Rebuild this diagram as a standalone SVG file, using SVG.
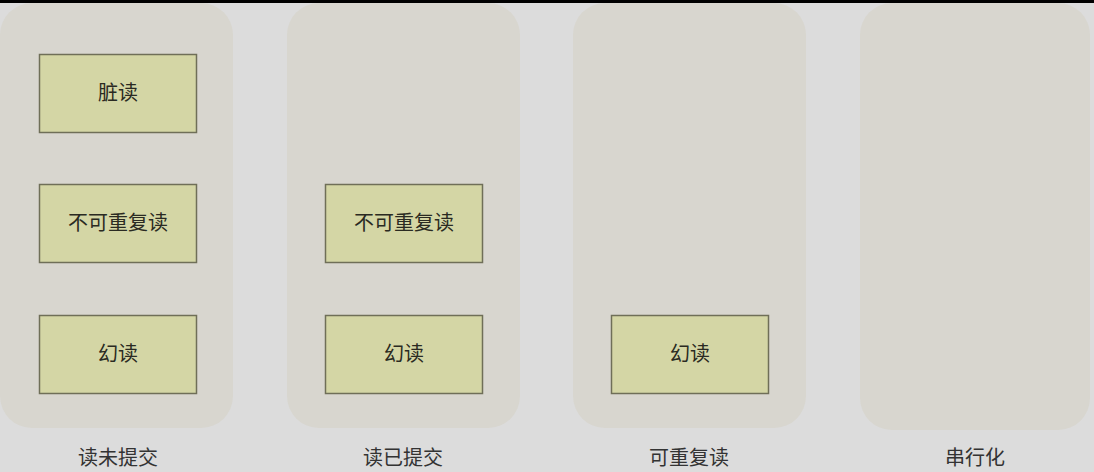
<svg xmlns="http://www.w3.org/2000/svg" width="1094" height="472" viewBox="0 0 1094 472">
<style>
.panel{fill:#d8d6cf}
.box rect{fill:#d4d6a5;stroke:#6f6f58;stroke-width:1.5}
text{font-family:"Noto Sans CJK SC","Noto Sans",sans-serif;font-size:20px;fill:#2a2a22;text-anchor:middle}
.lbl{fill:#333}
</style>
<rect width="1094" height="472" fill="#dcdcdc"/>
<rect width="1094" height="3" fill="#000"/>
<g id="col1">
<rect class="panel" x="0" y="3" width="233" height="425" rx="32"/>
<text class="lbl" x="118" y="465">读未提交</text>
</g>
<g id="col2">
<rect class="panel" x="287" y="3" width="233" height="425" rx="32"/>
<text class="lbl" x="403" y="465">读已提交</text>
</g>
<g id="col3">
<rect class="panel" x="573" y="3" width="233" height="425" rx="32"/>
<text class="lbl" x="689" y="465">可重复读</text>
</g>
<g id="col4">
<rect class="panel" x="860" y="3" width="230" height="427" rx="32"/>
<text class="lbl" x="975" y="465">串行化</text>
</g>
<g id="n1" class="box"><rect x="39.5" y="54.5" width="157" height="78"/><text x="118" y="100">脏读</text></g>
<g id="n2" class="box"><rect x="39.5" y="184.5" width="157" height="78"/><text x="118" y="230">不可重复读</text></g>
<g id="n3" class="box"><rect x="39.5" y="315.5" width="157" height="78"/><text x="118" y="361">幻读</text></g>
<g id="n4" class="box"><rect x="325.5" y="184.5" width="157" height="78"/><text x="404" y="230">不可重复读</text></g>
<g id="n5" class="box"><rect x="325.5" y="315.5" width="157" height="78"/><text x="404" y="361">幻读</text></g>
<g id="n6" class="box"><rect x="611.5" y="315.5" width="157" height="78"/><text x="690" y="361">幻读</text></g>
<g id="connectors"></g>
</svg>
